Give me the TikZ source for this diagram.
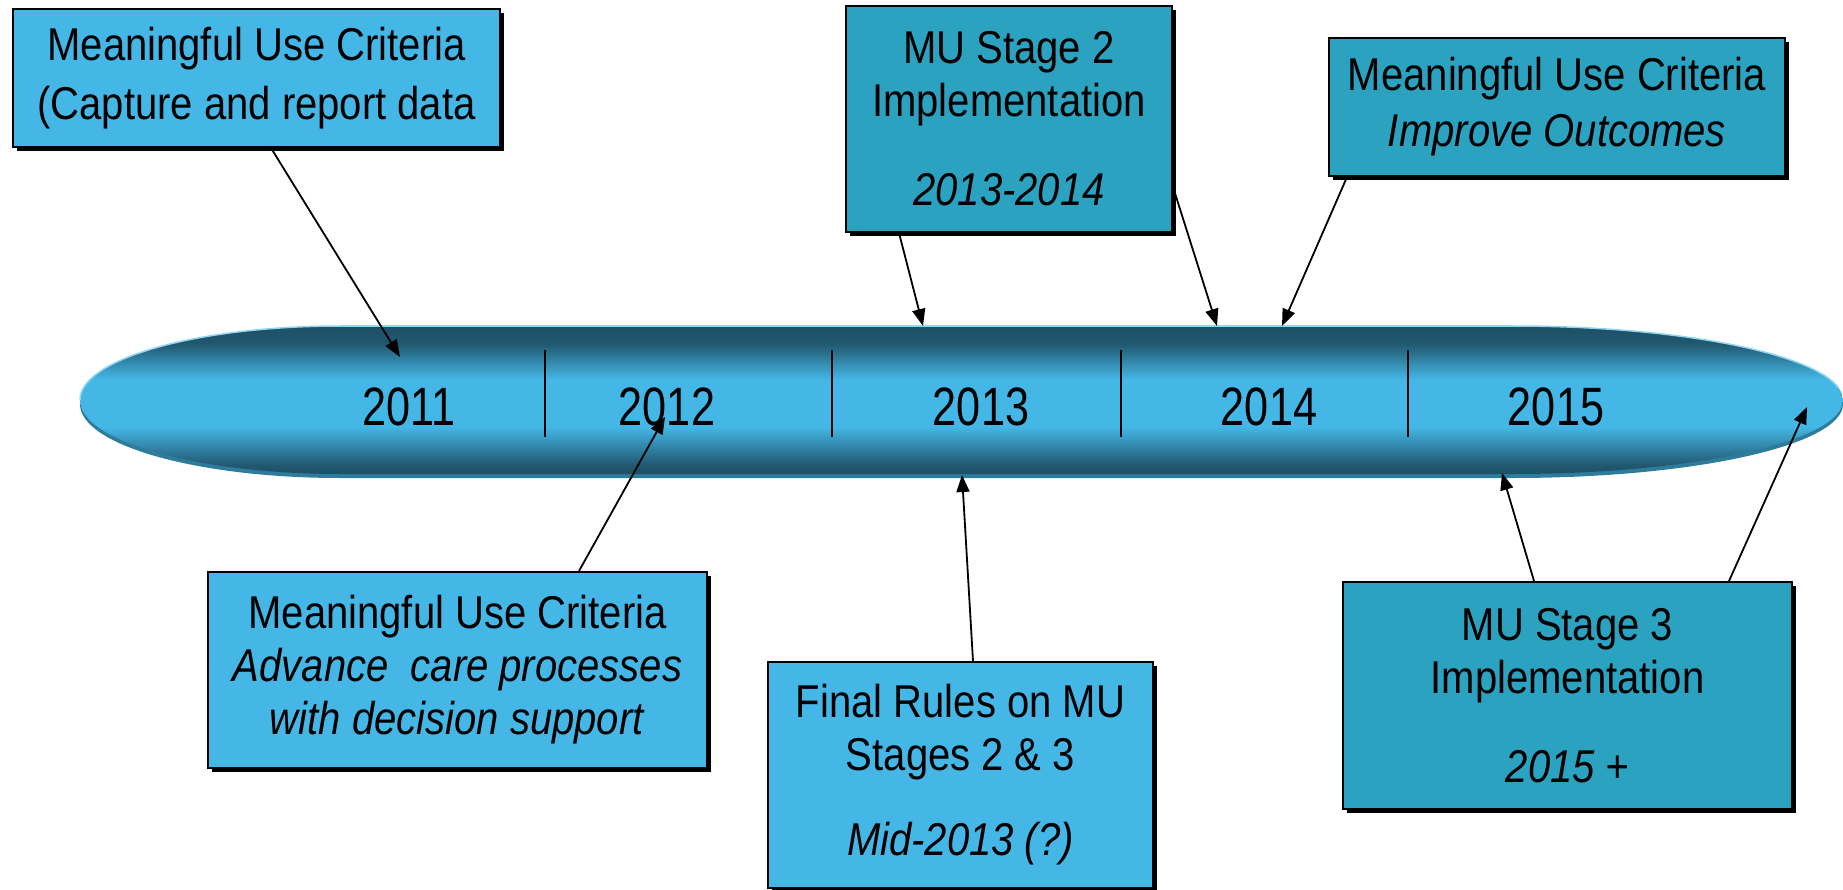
\documentclass[tikz,border=0pt]{standalone}
\usepackage{fontspec}
\setmainfont{Liberation Sans}[FakeStretch=0.87]
\newfontfamily\yearfont{Liberation Sans}[FakeStretch=0.8]
\usetikzlibrary{shadows,arrows.meta,calc}
\definecolor{lightbox}{HTML}{45B7E7}
\definecolor{darkbox}{HTML}{2BA2BF}
\definecolor{tubedark}{HTML}{215870}
\definecolor{tubedarker}{HTML}{1E4F66}
\definecolor{tubelight}{HTML}{44B7E6}
\definecolor{tuberim}{HTML}{8FD6F2}
\definecolor{tubeshadow}{HTML}{2E7C9B}
\pgfdeclareverticalshading{tube}{100bp}{color(0bp)=(tubedarker); color(25bp)=(tubedarker); color(28bp)=(tubedark); color(41bp)=(tubelight); color(57bp)=(tubelight); color(69bp)=(tubedark); color(75bp)=(tubedarker); color(100bp)=(tubedarker)}
\tikzset{
  infobox/.style={draw=black, line width=2pt, inner sep=0pt, align=center,
    font=\fontsize{46}{53}\selectfont,
    drop shadow={shadow xshift=4pt, shadow yshift=-4pt, fill=black, opacity=1}},
  lbox/.style={infobox, fill=lightbox},
  dbox/.style={infobox, fill=darkbox},
  yearlbl/.style={font=\yearfont\fontsize{54}{60}\selectfont, anchor=base},
  divider/.style={line width=2pt, black},
  arr/.style={line width=1.8pt, -{Triangle[length=17pt,width=13pt]}}
}
\begin{document}
\begin{tikzpicture}[x=1pt,y=-1pt]
\useasboundingbox (0,0) rectangle (1843,890);
% timeline tube
\fill[tubeshadow] (80,404) arc[start angle=180,end angle=90,x radius=260pt,y radius=74pt] -- (1513,330) arc[start angle=90,end angle=-90,x radius=330pt,y radius=74pt] -- (340,478) arc[start angle=270,end angle=180,x radius=260pt,y radius=74pt] -- cycle;
\shade[shading=tube] (80,400) arc[start angle=180,end angle=90,x radius=260pt,y radius=74pt] -- (1513,326) arc[start angle=90,end angle=-90,x radius=330pt,y radius=74pt] -- (340,474) arc[start angle=270,end angle=180,x radius=260pt,y radius=74pt] -- cycle;
\draw[tuberim, line width=1.5pt] (80,400) arc[start angle=180,end angle=90,x radius=260pt,y radius=74pt] -- (1513,326) arc[start angle=90,end angle=10,x radius=330pt,y radius=74pt];
% dividers
\draw[divider] (545,350) -- (545,437);
\draw[divider] (832,350) -- (832,437);
\draw[divider] (1121,350) -- (1121,437);
\draw[divider] (1408,350) -- (1408,437);
% years
\node[yearlbl] (y2011) at (409,425) {2011};
\node[yearlbl] (y2012) at (667,425) {2012};
\node[yearlbl] (y2013) at (981,425) {2013};
\node[yearlbl] (y2014) at (1269,425) {2014};
\node[yearlbl] (y2015) at (1556,425) {2015};
% boxes
\node[lbox, minimum width=487pt, minimum height=138pt] (box1) at (256.5,78) {Meaningful Use Criteria\\[6pt](Capture and report data};
\node[dbox, minimum width=326pt, minimum height=226pt] (box2) at (1009,119) {MU Stage 2\\Implementation\\[36pt]\textit{2013-2014}};
\node[dbox, minimum width=456pt, minimum height=138pt] (box3) at (1557,107) {Meaningful Use Criteria\\[3pt]\textit{Improve Outcomes}};
\node[lbox, minimum width=499pt, minimum height=196pt] (box4) at (457.5,670) {Meaningful Use Criteria\\\textit{Advance~ care processes}\\\textit{with decision support}};
\node[lbox, minimum width=385pt, minimum height=226pt] (box5) at (960.5,775) {Final Rules on MU\\Stages 2 \& 3\\[32pt]\textit{Mid-2013 (?)}};
\node[dbox, minimum width=449pt, minimum height=227pt] (box6) at (1567.5,695.5) {MU Stage 3\\Implementation\\[36pt]\textit{2015 +}};
% arrow targets
\coordinate (t1) at (400,357);
\coordinate (t2) at (923,326);
\coordinate (t3) at (1217,326);
\coordinate (t4) at (1282,326);
\coordinate (t5) at (665,417);
\coordinate (t6) at (962,475);
\coordinate (t7) at (1502,473);
\coordinate (t8) at (1807,407);
% connectors
\draw[arr] ([xshift=259pt]box1.south west) -- (t1);
\draw[arr] ([xshift=54pt]box2.south west) -- (t2);
\draw[arr] ([yshift=-182pt]box2.north east) -- (t3);
\draw[arr] ([xshift=19pt]box3.south west) -- (t4);
\draw[arr] ([xshift=372pt]box4.north west) -- (t5);
\draw[arr] ([xshift=206pt]box5.north west) -- (t6);
\draw[arr] ([xshift=192pt]box6.north west) -- (t7);
\draw[arr] ([xshift=387pt]box6.north west) -- (t8);
\end{tikzpicture}
\end{document}
